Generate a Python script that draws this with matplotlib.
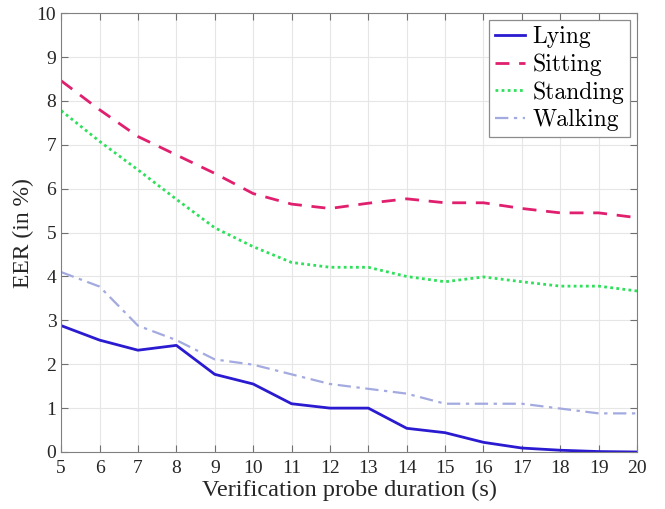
import matplotlib
matplotlib.use("Agg")
import matplotlib.pyplot as plt

durations = list(range(5, 21))
lying = [2.88, 2.55, 2.32, 2.43, 1.77, 1.55, 1.10, 1.00, 1.00, 0.54, 0.44, 0.22, 0.09, 0.04, 0.01, 0.00]
sitting = [8.46, 7.80, 7.19, 6.77, 6.35, 5.89, 5.65, 5.55, 5.67, 5.77, 5.68, 5.68, 5.55, 5.45, 5.45, 5.34]
standing = [7.78, 7.08, 6.43, 5.76, 5.11, 4.68, 4.32, 4.21, 4.21, 4.00, 3.88, 3.99, 3.88, 3.78, 3.78, 3.67]
walking = [4.10, 3.77, 2.88, 2.55, 2.11, 1.99, 1.77, 1.55, 1.44, 1.33, 1.10, 1.10, 1.10, 0.99, 0.88, 0.88]

plt.rcParams["font.family"] = "Liberation Serif"

fig = plt.figure(figsize=(6.65, 5.09), dpi=100)
ax = fig.add_axes([0.092, 0.112, 0.866, 0.862])

ax.plot(durations, lying, color="#2a1ad0", lw=2.0, ls="-", label="Lying")
ax.plot(durations, sitting, color="#e01f6e", lw=2.0, ls=(0, (5, 3.5)), label="Sitting")
ax.plot(durations, standing, color="#2fe05a", lw=2.0, ls=(0, (1, 1.2)), label="Standing")
ax.plot(durations, walking, color="#a3aae0", lw=1.6, ls=(0, (6, 2.5, 1.5, 2.5)), label="Walking")

ax.set_xlim(5, 20)
ax.set_ylim(0, 10)
ax.set_xticks(durations)
ax.set_yticks(range(0, 11))
ax.grid(True, color="#e6e6e6", lw=0.8)
ax.set_axisbelow(True)
ax.tick_params(direction="in", top=True, right=True, labelsize=14, colors="#707070",
               labelcolor="#262626", length=5)
ax.tick_params(axis="x", pad=6)
for s in ax.spines.values():
    s.set_color("#808080")

ax.set_xlabel("Verification probe duration (s)", fontsize=17.5, color="#262626", labelpad=2)
ax.set_ylabel("EER (in %)", fontsize=17, color="#262626", labelpad=2)

leg = ax.legend(loc="upper right", prop={"family": "cmr10", "size": 17},
                handlelength=1.3, handletextpad=0.3, borderpad=0.25, labelspacing=0.22,
                fancybox=False, framealpha=1, edgecolor="#8c8c8c",
                borderaxespad=0.3)
leg.get_frame().set_linewidth(0.9)

fig.savefig("out.png", dpi=100)
